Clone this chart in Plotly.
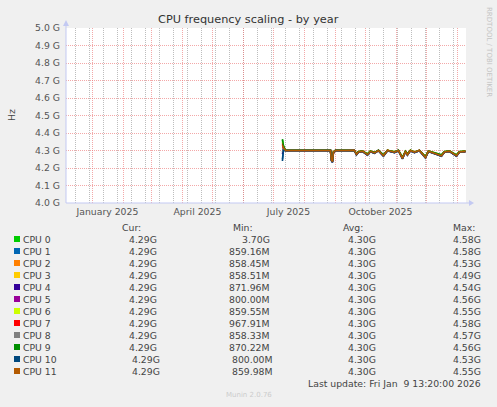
import plotly.graph_objects as go

# time window shown by the munin "by year" graph
X_START = "2024-12-05 13:20"
X_END = "2026-01-09 13:20"

MONTH_LABEL_DATES = ["2025-01-16", "2025-04-16", "2025-07-16", "2025-10-16"]
MONTH_LABELS = ["January 2025", "April 2025", "July 2025", "October 2025"]

DATES = [
    "2025-07-10", "2025-07-11", "2025-07-13", "2025-07-17", "2025-07-27",
    "2025-08-06", "2025-08-16", "2025-08-27", "2025-08-28", "2025-08-29",
    "2025-08-30", "2025-09-01", "2025-09-10", "2025-09-20", "2025-09-22",
    "2025-09-24", "2025-09-28", "2025-10-03", "2025-10-06", "2025-10-10",
    "2025-10-14", "2025-10-19", "2025-10-23", "2025-10-30", "2025-11-03",
    "2025-11-07", "2025-11-10", "2025-11-12", "2025-11-15", "2025-11-19",
    "2025-11-24", "2025-11-30", "2025-12-03", "2025-12-09", "2025-12-16",
    "2025-12-19", "2025-12-24", "2025-12-31", "2026-01-03", "2026-01-09",
]

# GHz, one list per core
CPU_0 = [4.360, 4.325, 4.301, 4.300, 4.301, 4.300, 4.300, 4.301, 4.250, 4.240,
         4.292, 4.301, 4.300, 4.301, 4.282, 4.293, 4.297, 4.280, 4.296, 4.288,
         4.301, 4.274, 4.300, 4.292, 4.301, 4.260, 4.295, 4.280, 4.300, 4.291,
         4.301, 4.265, 4.297, 4.287, 4.274, 4.293, 4.297, 4.274, 4.293, 4.296]
CPU_1 = [4.250, 4.305, 4.299, 4.300, 4.299, 4.300, 4.299, 4.300, 4.246, 4.236,
         4.289, 4.299, 4.300, 4.299, 4.277, 4.291, 4.295, 4.275, 4.294, 4.285,
         4.299, 4.269, 4.299, 4.289, 4.299, 4.254, 4.293, 4.275, 4.299, 4.289,
         4.299, 4.259, 4.295, 4.284, 4.269, 4.291, 4.295, 4.269, 4.291, 4.294]
CPU_2 = [4.330, 4.318, 4.300, 4.301, 4.300, 4.301, 4.300, 4.300, 4.244, 4.234,
         4.290, 4.300, 4.301, 4.300, 4.279, 4.292, 4.296, 4.277, 4.295, 4.287,
         4.300, 4.271, 4.301, 4.291, 4.300, 4.257, 4.294, 4.277, 4.301, 4.290,
         4.300, 4.262, 4.296, 4.286, 4.271, 4.292, 4.296, 4.271, 4.292, 4.295]
CPU_3 = [4.310, 4.312, 4.300, 4.300, 4.300, 4.299, 4.300, 4.300, 4.248, 4.238,
         4.291, 4.300, 4.300, 4.300, 4.280, 4.292, 4.296, 4.278, 4.295, 4.286,
         4.300, 4.272, 4.300, 4.290, 4.300, 4.258, 4.294, 4.278, 4.300, 4.290,
         4.300, 4.263, 4.296, 4.285, 4.272, 4.292, 4.296, 4.272, 4.292, 4.295]
CPU_4 = [4.280, 4.308, 4.299, 4.299, 4.300, 4.300, 4.301, 4.299, 4.243, 4.233,
         4.288, 4.299, 4.299, 4.300, 4.276, 4.290, 4.295, 4.274, 4.294, 4.284,
         4.299, 4.268, 4.299, 4.288, 4.299, 4.253, 4.293, 4.274, 4.299, 4.288,
         4.299, 4.258, 4.295, 4.283, 4.268, 4.290, 4.295, 4.268, 4.290, 4.294]
CPU_5 = [4.320, 4.315, 4.301, 4.300, 4.299, 4.300, 4.300, 4.301, 4.247, 4.237,
         4.290, 4.301, 4.300, 4.300, 4.278, 4.291, 4.296, 4.276, 4.295, 4.286,
         4.301, 4.270, 4.300, 4.290, 4.301, 4.256, 4.294, 4.276, 4.300, 4.290,
         4.301, 4.261, 4.296, 4.285, 4.270, 4.291, 4.296, 4.270, 4.291, 4.295]
CPU_6 = [4.350, 4.322, 4.300, 4.301, 4.300, 4.300, 4.299, 4.300, 4.251, 4.241,
         4.292, 4.300, 4.301, 4.300, 4.281, 4.293, 4.297, 4.279, 4.296, 4.288,
         4.300, 4.273, 4.301, 4.292, 4.300, 4.259, 4.295, 4.279, 4.301, 4.291,
         4.300, 4.264, 4.297, 4.287, 4.273, 4.293, 4.297, 4.273, 4.293, 4.296]
CPU_7 = [4.340, 4.320, 4.300, 4.300, 4.301, 4.301, 4.300, 4.300, 4.249, 4.239,
         4.291, 4.300, 4.300, 4.301, 4.279, 4.292, 4.296, 4.278, 4.295, 4.287,
         4.300, 4.272, 4.300, 4.291, 4.300, 4.258, 4.294, 4.278, 4.300, 4.290,
         4.300, 4.263, 4.296, 4.286, 4.272, 4.292, 4.296, 4.272, 4.292, 4.295]
CPU_8 = [4.290, 4.310, 4.299, 4.300, 4.300, 4.299, 4.300, 4.299, 4.245, 4.235,
         4.289, 4.299, 4.300, 4.299, 4.277, 4.291, 4.295, 4.276, 4.294, 4.285,
         4.299, 4.270, 4.299, 4.289, 4.299, 4.255, 4.293, 4.276, 4.299, 4.289,
         4.299, 4.260, 4.295, 4.284, 4.270, 4.291, 4.295, 4.270, 4.291, 4.294]
CPU_9 = [4.365, 4.328, 4.301, 4.301, 4.300, 4.300, 4.301, 4.301, 4.252, 4.242,
         4.293, 4.301, 4.301, 4.300, 4.283, 4.294, 4.298, 4.281, 4.297, 4.289,
         4.301, 4.275, 4.301, 4.293, 4.301, 4.261, 4.296, 4.281, 4.301, 4.292,
         4.301, 4.266, 4.298, 4.288, 4.275, 4.294, 4.298, 4.275, 4.294, 4.297]
CPU_10 = [4.240, 4.302, 4.299, 4.299, 4.299, 4.300, 4.299, 4.299, 4.242, 4.232,
          4.288, 4.299, 4.299, 4.299, 4.275, 4.290, 4.294, 4.273, 4.293, 4.284,
          4.299, 4.267, 4.299, 4.288, 4.299, 4.252, 4.292, 4.273, 4.299, 4.288,
          4.299, 4.257, 4.294, 4.283, 4.267, 4.290, 4.294, 4.267, 4.290, 4.293]
CPU_11 = [4.330, 4.316, 4.300, 4.300, 4.300, 4.300, 4.300, 4.300, 4.246, 4.236,
          4.290, 4.300, 4.300, 4.300, 4.278, 4.292, 4.296, 4.276, 4.295, 4.286,
          4.300, 4.270, 4.300, 4.290, 4.300, 4.255, 4.294, 4.276, 4.300, 4.290,
          4.300, 4.260, 4.296, 4.285, 4.270, 4.292, 4.296, 4.270, 4.292, 4.295]

SERIES = [CPU_0, CPU_1, CPU_2, CPU_3, CPU_4, CPU_5, CPU_6, CPU_7, CPU_8, CPU_9, CPU_10, CPU_11]
LABELS = ["CPU 0", "CPU 1", "CPU 2", "CPU 3", "CPU 4", "CPU 5",
          "CPU 6", "CPU 7", "CPU 8", "CPU 9", "CPU 10", "CPU 11"]
COLORS = ["#00CC00", "#0066B3", "#FF8000", "#FFCC00", "#330099", "#990099",
          "#CCFF00", "#FF0000", "#808080", "#008F00", "#00487D", "#B35A00"]

CUR = ["4.29G"] * 12
MIN = ["3.70G", "859.16M", "858.45M", "858.51M", "871.96M", "800.00M",
       "859.55M", "967.91M", "858.33M", "870.22M", "800.00M", "859.98M"]
AVG = ["4.30G"] * 12
MAX = ["4.58G", "4.58G", "4.53G", "4.49G", "4.54G", "4.56G",
       "4.55G", "4.58G", "4.57G", "4.56G", "4.53G", "4.55G"]

W, H = 497, 407
PL, PR, PT, PB = 66, 466, 28, 203
FONT = "DejaVu Sans"
AXIS_BLUE = "#C3C9F2"
MAJOR_GRID = "rgba(235,110,110,0.6)"
MINOR_GRID = "#BDBDBD"
DOTS = "1px,1px"


def px(x):
    return (x - PL) / (PR - PL)


def py(y):
    return (PB - y) / (PB - PT)


fig = go.Figure()

# dummy trace so the monthly grid axis gets drawn
fig.add_trace(go.Scatter(x=[X_START, X_END], y=[4.0, 4.0], xaxis="x2", mode="lines",
                         line=dict(width=0), hoverinfo="skip", showlegend=False))

for name, vals, col in zip(LABELS, SERIES, COLORS):
    fig.add_trace(go.Scatter(x=DATES, y=vals, name=name, mode="lines",
                             line=dict(color=col, width=1.6), showlegend=False))

fig.update_layout(
    width=W, height=H, autosize=False,
    margin=dict(l=PL, r=W - PR, t=PT, b=H - PB),
    paper_bgcolor="#F0F0F0", plot_bgcolor="#FFFFFF",
    font=dict(family=FONT, size=9.3, color="#555555"),
    xaxis=dict(
        type="date", range=[X_START, X_END],
        tickmode="array", tickvals=MONTH_LABEL_DATES, ticktext=MONTH_LABELS,
        showgrid=False, zeroline=False, showline=False, ticks="", ticklabelstandoff=2,
        tickfont=dict(size=9.3, color="#555555"),
        minor=dict(tick0="2024-12-15", dtick=14 * 86400000, showgrid=True,
                   gridcolor=MINOR_GRID, griddash=DOTS, gridwidth=1),
    ),
    xaxis2=dict(
        type="date", range=[X_START, X_END], overlaying="x", anchor="y",
        tick0="2025-01-01", dtick="M1", showticklabels=False, ticks="",
        showgrid=True, gridcolor=MAJOR_GRID, griddash=DOTS, gridwidth=1,
        zeroline=False, showline=False,
    ),
    yaxis=dict(
        range=[4.0, 5.0], dtick=0.1, tickformat=".1f", ticksuffix=" G",
        showgrid=True, gridcolor=MAJOR_GRID, griddash=DOTS, gridwidth=1,
        zeroline=False, showline=False, ticks="", ticklabelstandoff=5,
        tickfont=dict(size=9.3, color="#555555"),
    ),
)

shapes = [
    # axis lines with arrowheads
    dict(type="line", xref="paper", yref="paper", x0=px(66), x1=px(66), y0=py(203), y1=py(23),
         line=dict(color=AXIS_BLUE, width=1)),
    dict(type="line", xref="paper", yref="paper", x0=px(66), x1=px(470), y0=py(203), y1=py(203),
         line=dict(color=AXIS_BLUE, width=1)),
    dict(type="path", xref="paper", yref="paper", fillcolor=AXIS_BLUE, line=dict(width=0),
         path=f"M {px(63)} {py(26)} L {px(69)} {py(26)} L {px(66)} {py(20)} Z"),
    dict(type="path", xref="paper", yref="paper", fillcolor=AXIS_BLUE, line=dict(width=0),
         path=f"M {px(469)} {py(200)} L {px(469)} {py(206)} L {px(474)} {py(203)} Z"),
]

ann = [
    dict(text="CPU frequency scaling - by year", x=px(248), y=py(20),
         font=dict(size=11.3, color="#333333")),
    dict(text="Hz", x=px(11), y=py(115), textangle=-90, font=dict(size=9.3, color="#444444")),
    dict(text="RRDTOOL / TOBI OETIKER", x=px(489), y=py(52), textangle=90,
         font=dict(size=7, color="#C4C4C4")),
    dict(text="Cur:", x=px(143), y=py(227), xanchor="right"),
    dict(text="Min:", x=px(255), y=py(227), xanchor="right"),
    dict(text="Avg:", x=px(365), y=py(227), xanchor="right"),
    dict(text="Max:", x=px(477), y=py(227), xanchor="right"),
    dict(text="Last update: Fri Jan  9 13:20:00 2026", x=px(483), y=py(383), xanchor="right"),
    dict(text="Munin 2.0.76", x=px(249), y=py(395), font=dict(size=7, color="#CCCCCC")),
]

for i, name in enumerate(LABELS):
    yc = 239 + 12 * i
    shift = 3 if len(name) > 5 else 0
    shapes.append(dict(type="rect", xref="paper", yref="paper",
                       x0=px(14), x1=px(20), y0=py(yc + 3), y1=py(yc - 3),
                       fillcolor=COLORS[i], line=dict(width=0)))
    ann.append(dict(text=name, x=px(21), y=py(yc), xanchor="left"))
    ann.append(dict(text=CUR[i], x=px(159 + shift), y=py(yc), xanchor="right"))
    ann.append(dict(text=MIN[i], x=px(272 + shift), y=py(yc), xanchor="right"))
    ann.append(dict(text=AVG[i], x=px(378), y=py(yc), xanchor="right"))
    ann.append(dict(text=MAX[i], x=px(483), y=py(yc), xanchor="right"))

for a in ann:
    a.setdefault("xref", "paper")
    a.setdefault("yref", "paper")
    a.setdefault("xanchor", "center")
    a.setdefault("yanchor", "middle")
    a.setdefault("showarrow", False)
    a.setdefault("font", dict(size=9.3, color="#444444"))

fig.update_layout(shapes=shapes, annotations=ann)

# the page body has an 8px default margin; drop it so the figure sits at 0,0
fig.write_html("out.html", config={"displayModeBar": False},
               post_script="document.body.style.margin = '0';")
